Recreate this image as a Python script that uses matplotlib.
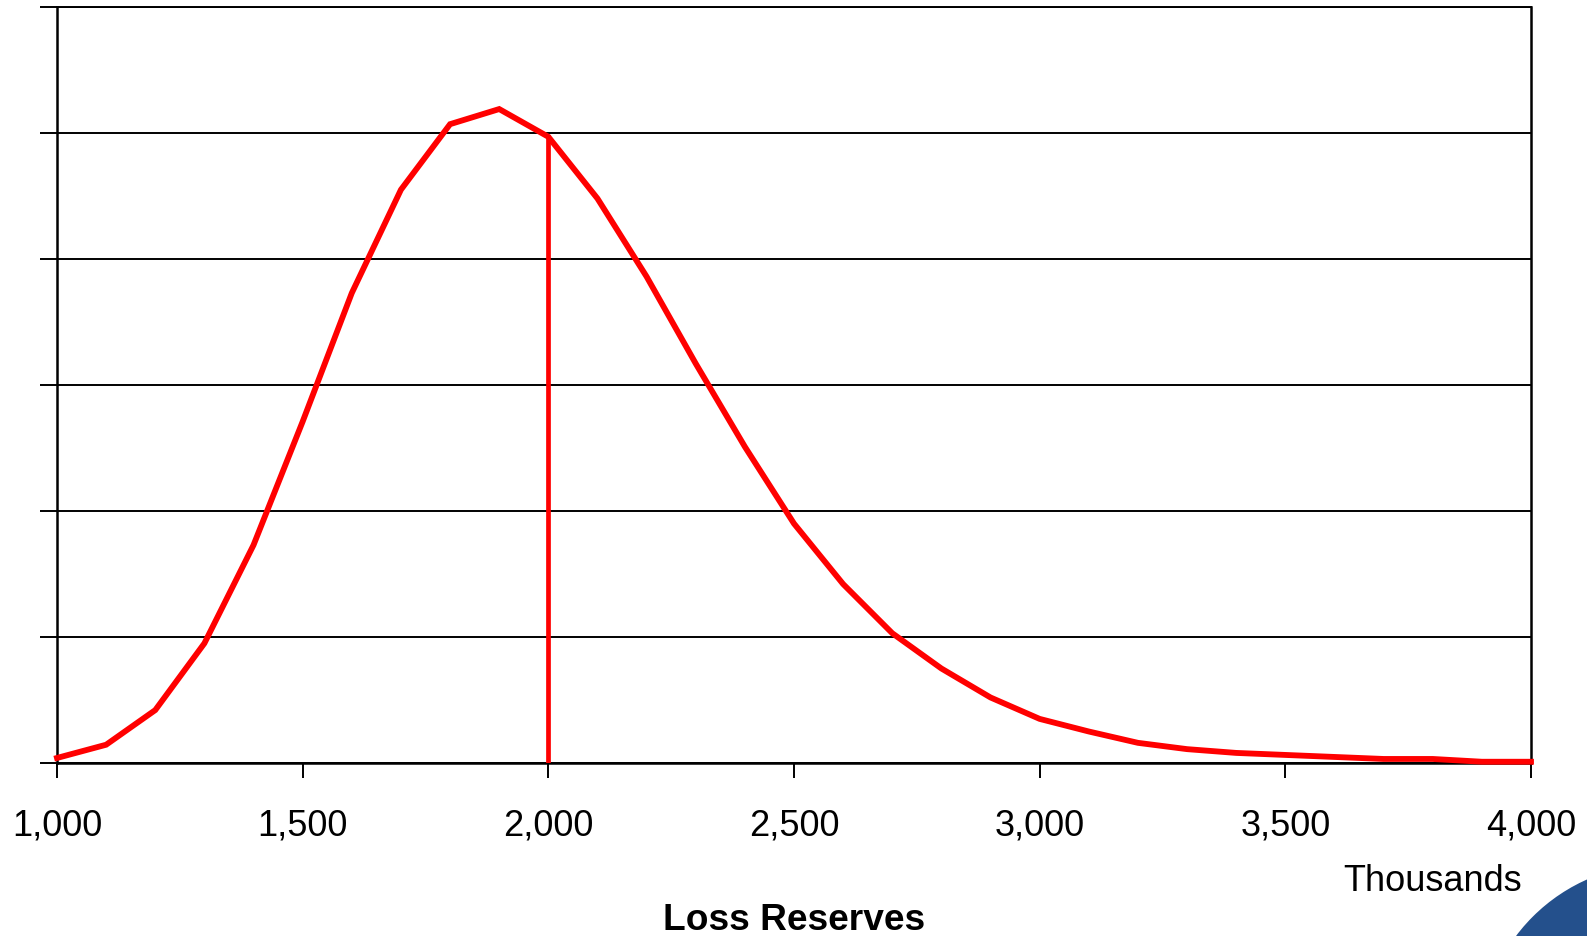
import matplotlib
matplotlib.use("Agg")
import matplotlib.pyplot as plt
from matplotlib.patches import Circle
import numpy as np

plt.rcParams['font.family'] = ['Liberation Sans', 'DejaVu Sans']

reserves = [1000, 1100, 1200, 1300, 1400, 1500, 1600, 1700, 1800, 1900,
            2000, 2100, 2200, 2300, 2400, 2500, 2600, 2700, 2800, 2900,
            3000, 3100, 3200, 3300, 3400, 3500, 3600, 3700, 3800, 3900, 4000]
density = [0.04, 0.145, 0.42, 0.95, 1.73, 2.71, 3.73, 4.55, 5.07, 5.19,
           4.97, 4.48, 3.86, 3.17, 2.51, 1.90, 1.42, 1.03, 0.75, 0.52,
           0.35, 0.25, 0.16, 0.11, 0.08, 0.064, 0.048, 0.032, 0.032, 0.01, 0.01]
marker_x = 2000
marker_y = 4.97
x_ticks = [1000, 1500, 2000, 2500, 3000, 3500, 4000]
x_labels = ['1,000', '1,500', '2,000', '2,500', '3,000', '3,500', '4,000']
y_ticks = [0, 1, 2, 3, 4, 5, 6]

W, H = 1587, 937
fig = plt.figure(figsize=(W / 100, H / 100), dpi=100)
ax = fig.add_axes([57 / W, 1 - 764 / H, (1531 - 57) / W, (764 - 8) / H])

ax.plot(reserves, density, color='#ff0000', lw=4.2, solid_joinstyle='miter', zorder=3, clip_on=False)
ax.plot([marker_x, marker_x], [0, marker_y], color='#ff0000', lw=3.4, zorder=3)

ax.set_xlim(1000, 4000)
ax.set_ylim(0, 6)
ax.set_xticks(x_ticks)
ax.set_xticklabels(x_labels, fontsize=26)
ax.set_yticks(y_ticks)
ax.set_yticklabels([])
ax.yaxis.grid(True, color='black', lw=1.4)
ax.set_axisbelow(True)
ax.tick_params(axis='y', length=12, width=1.4, color='black', left=True)
ax.tick_params(axis='x', length=11, width=1.4, color='black', pad=21)
for s in ['left', 'bottom', 'right']:
    ax.spines[s].set_linewidth(1.8)
    ax.spines[s].set_color('black')
ax.spines['top'].set_linewidth(1.4)

fig.text(1522 / W, 1 - 891 / H, 'Thousands', fontsize=26, ha='right', va='baseline')
fig.text(794 / W, 1 - 930 / H, 'Loss Reserves', fontsize=26.7, fontweight='bold',
         ha='center', va='baseline')

# decorative blue circle in bottom-right corner
circ_ax = fig.add_axes([0, 0, 1, 1], zorder=-1)
circ_ax.set_xlim(0, W)
circ_ax.set_ylim(H, 0)
circ_ax.axis('off')
circ_ax.add_patch(Circle((1660, 1045), 180, color='#24508c', lw=0))

fig.savefig('out.png', dpi=100)
